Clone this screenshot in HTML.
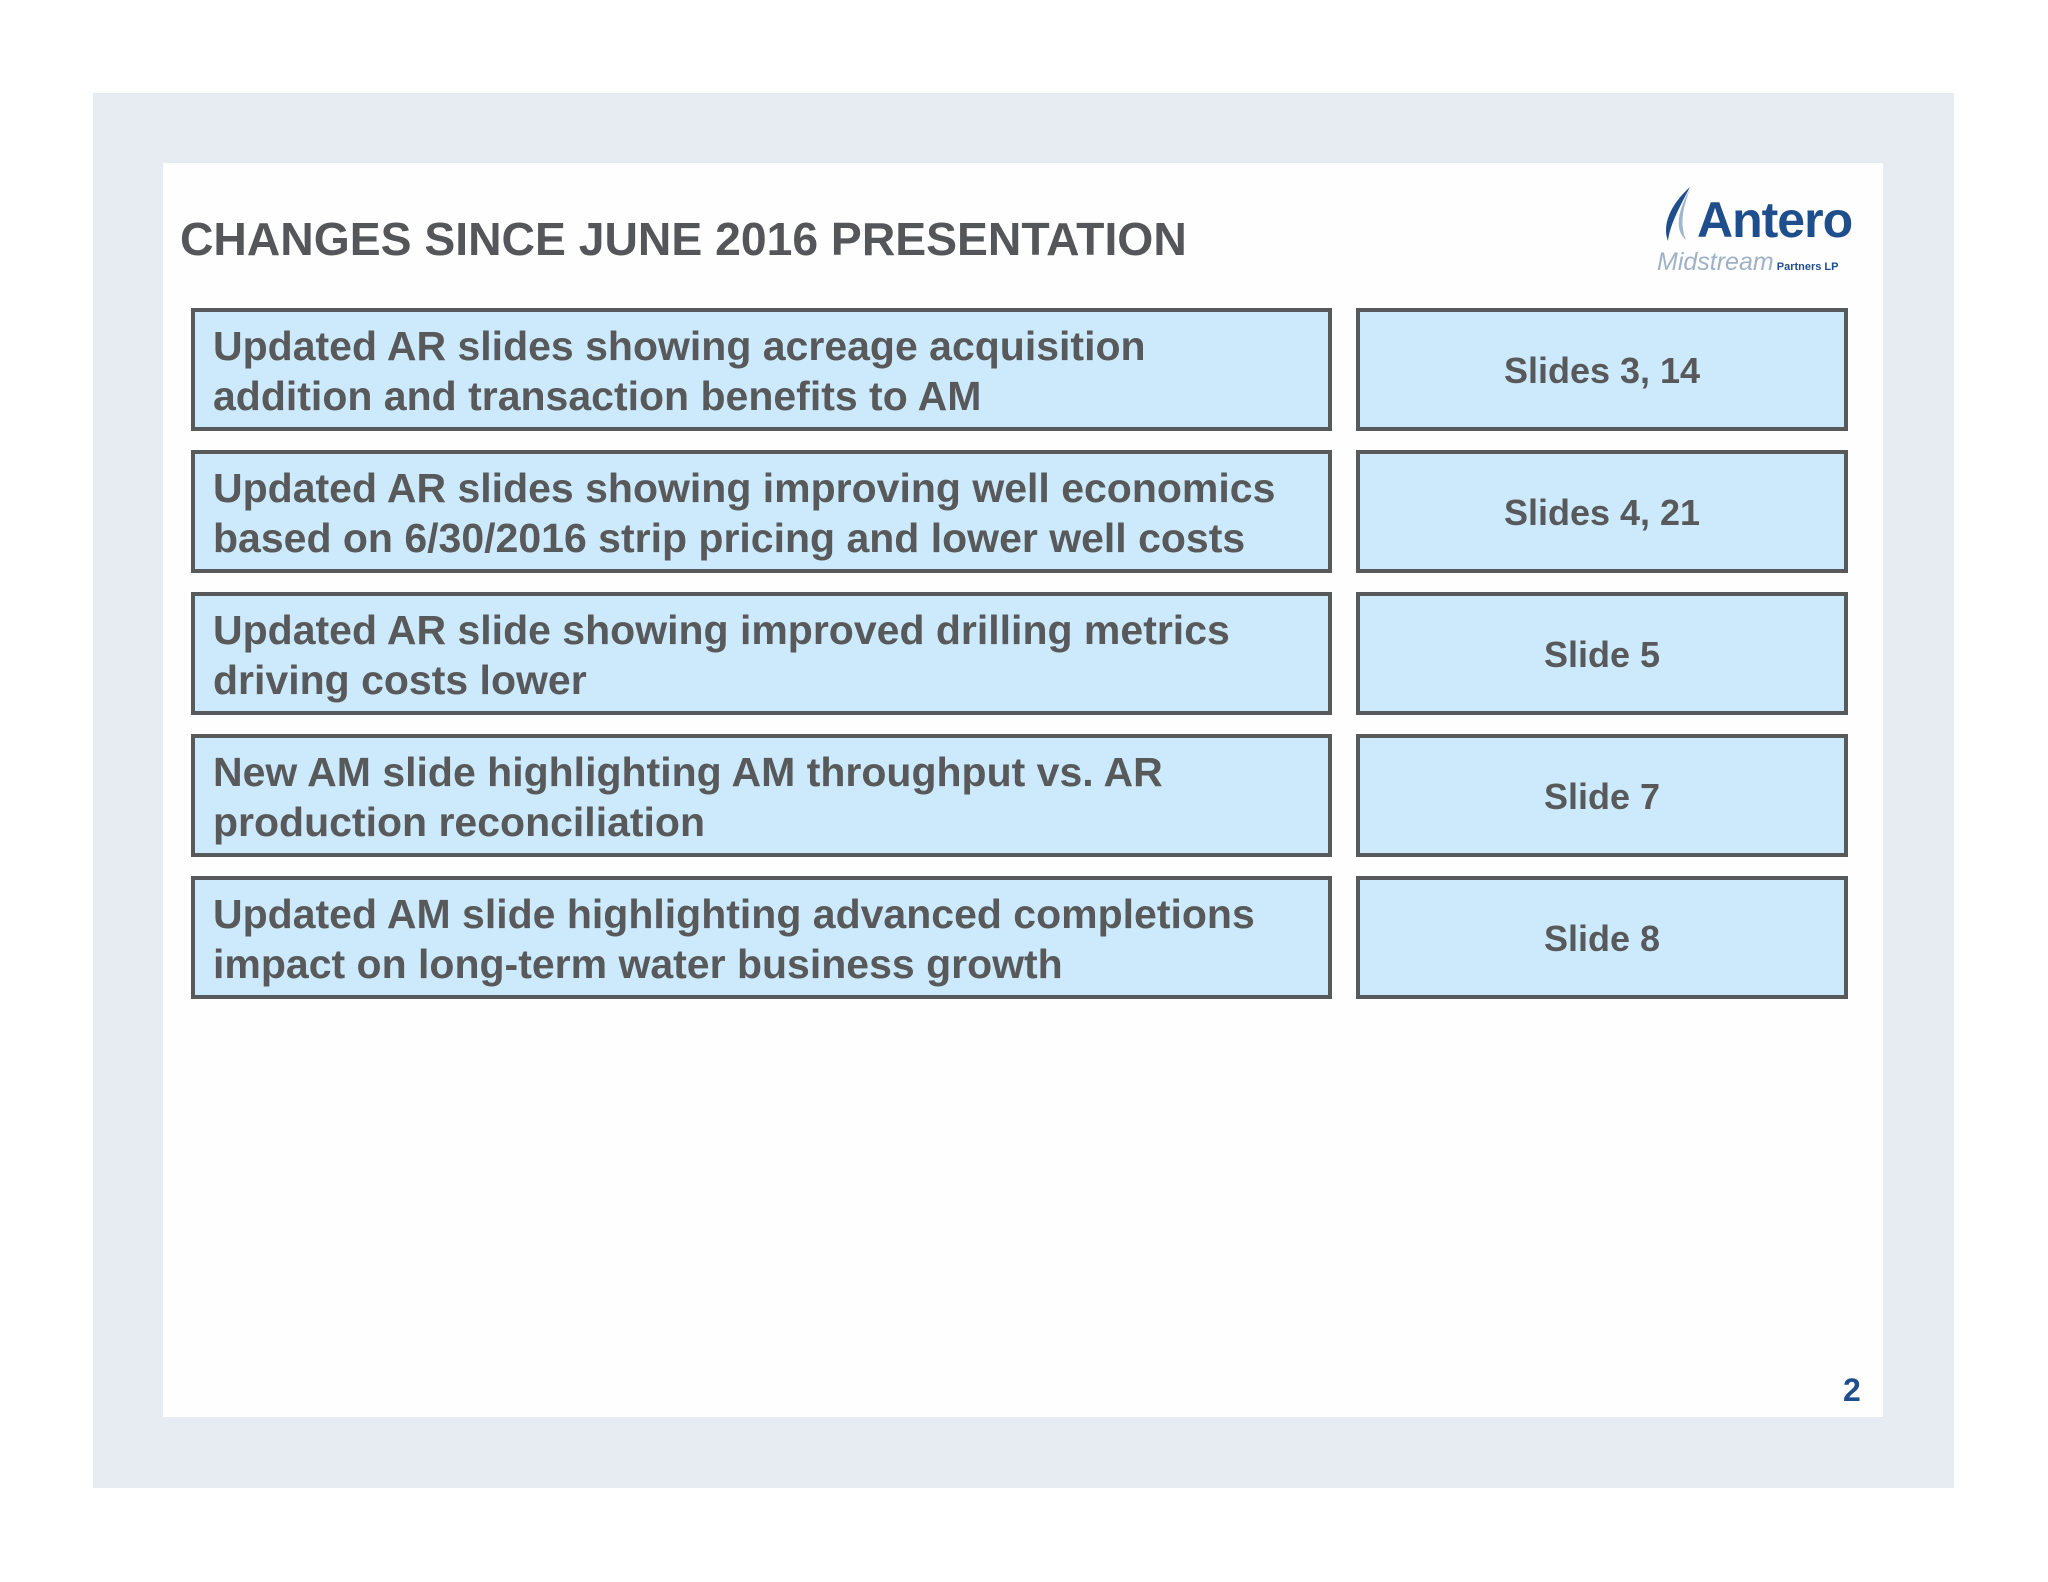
<!DOCTYPE html>
<html><head><meta charset="utf-8"><style>
body{margin:0;width:2048px;height:1582px;background:#fff;position:relative;font-family:"Liberation Sans",Arial,sans-serif;overflow:hidden}
.outer{position:absolute;left:93px;top:93px;width:1861px;height:1395px;background:#e6ecf2}
.inner{position:absolute;left:163px;top:163px;width:1720px;height:1254px;background:#fefefe}
.title{position:absolute;left:180px;top:212px;font-size:46.3px;font-weight:bold;color:#555659;white-space:nowrap}
.box{position:absolute;box-sizing:border-box;border:4px solid #58595b;background:#cdeafc;color:#58595b;font-weight:bold;font-size:41px}
.l{left:191px;width:1141px;height:123px;padding:9px 0 0 18px;line-height:50px;white-space:nowrap}
.r{left:1356px;width:492px;height:123px;display:flex;align-items:center;justify-content:center;font-size:36px;padding-top:2px}
.pn{position:absolute;left:1843px;top:1372px;font-size:32px;font-weight:bold;color:#1f4e8c}
</style></head><body>
<div class="outer"></div>
<div class="inner"></div>
<div class="title">CHANGES SINCE JUNE 2016 PRESENTATION</div>
<div style="position:absolute;left:1655px;top:185px;width:220px;height:90px">
<svg width="40" height="60" style="position:absolute;left:5px;top:0"><path d="M30 2 C10 20 2 40 8 56 C10 40 18 25 30 2Z" fill="#1f4e8c"/><path d="M30 4 C22 25 20 40 26 55 C14 45 18 25 30 4Z" fill="#9fb6cc"/></svg>
<div style="position:absolute;left:42px;top:6px;font-size:50px;font-weight:bold;color:#1f4e8c;letter-spacing:-1px">Antero</div>
<div style="position:absolute;left:2px;top:63px;font-size:25px;color:#9fb1c4;font-style:italic;white-space:nowrap">Midstream<span style="font-size:11px;color:#1f4e8c;font-weight:bold;font-style:normal"> Partners LP</span></div>
</div>
<div class="box l" style="top:308px">Updated AR slides showing acreage acquisition<br>addition and transaction benefits to AM</div>
<div class="box r" style="top:308px">Slides 3, 14</div>
<div class="box l" style="top:450px">Updated AR slides showing improving well economics<br>based on 6/30/2016 strip pricing and lower well costs</div>
<div class="box r" style="top:450px">Slides 4, 21</div>
<div class="box l" style="top:592px">Updated AR slide showing improved drilling metrics<br>driving costs lower</div>
<div class="box r" style="top:592px">Slide 5</div>
<div class="box l" style="top:734px">New AM slide highlighting AM throughput vs. AR<br>production reconciliation</div>
<div class="box r" style="top:734px">Slide 7</div>
<div class="box l" style="top:876px">Updated AM slide highlighting advanced completions<br>impact on long-term water business growth</div>
<div class="box r" style="top:876px">Slide 8</div>
<div class="pn">2</div>
</body></html>
